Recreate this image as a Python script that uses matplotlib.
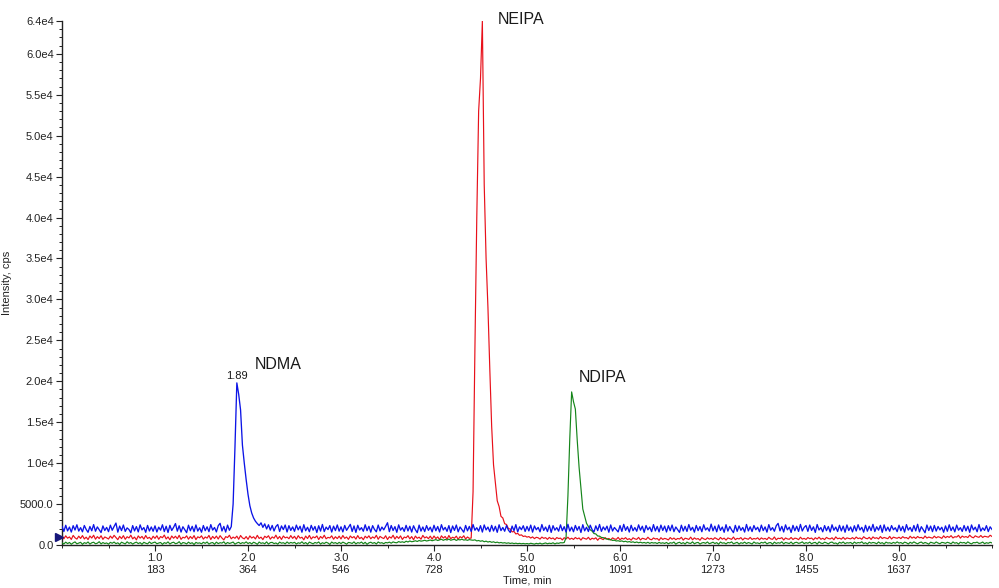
import numpy as np
import matplotlib
matplotlib.use("Agg")
import matplotlib.pyplot as plt
from matplotlib.ticker import MultipleLocator
import matplotlib.transforms as mtransforms

plt.rcParams['font.family'] = ['Liberation Sans', 'DejaVu Sans']

# ---- data (time grid: 0.00 .. 10.00 min, step 0.02; intensities in units of 10 cps) ----
time_start, time_step, n_points = 0.0, 0.02, 501
time_min = np.round(time_start + time_step * np.arange(n_points), 2)

ndma_blue = [
    228,165,241,172,219,158,236,183,247,170,212,161,238,190,155,226,174,249,168,221,186,152,233,177,215,
    163,242,180,226,268,157,231,176,244,166,209,189,150,237,172,225,160,246,184,213,155,239,171,220,168,
    234,159,218,181,247,164,229,153,240,177,216,262,169,235,158,223,186,151,242,174,228,162,245,170,211,
    156,238,175,222,163,249,182,214,160,236,265,171,227,158,243,180,224,500,1200,1980,1840,1650,1220,1000,800,
    620,480,390,330,290,262,238,271,215,258,196,247,182,239,171,226,250,165,233,188,244,159,236,178,221,
    167,243,185,229,156,248,174,217,162,240,181,226,153,235,170,251,164,219,188,237,158,230,176,245,169,
    222,160,239,179,216,252,165,233,154,241,183,212,168,247,175,228,157,236,190,161,244,172,219,185,230,
    272,163,238,177,224,155,246,181,213,166,240,172,229,158,235,186,151,243,170,220,164,237,179,218,160,
    241,174,226,159,248,183,215,167,237,152,232,178,244,161,220,188,156,239,173,227,165,250,180,211,169,
    236,158,245,184,219,163,240,171,228,155,247,176,214,168,238,182,153,231,174,249,160,222,187,235,166,
    227,172,243,157,233,186,215,161,250,178,220,164,241,154,236,181,212,169,246,175,224,158,253,170,218,
    162,239,180,226,153,248,173,217,165,242,188,159,234,176,251,167,221,183,230,156,245,171,214,187,160,
    237,166,252,179,224,158,241,174,213,168,246,181,229,155,238,185,219,163,249,172,227,160,243,178,231,
    159,236,175,244,163,220,187,154,242,171,228,166,250,180,216,157,239,176,225,162,247,183,210,169,255,
    173,230,161,245,178,219,155,248,170,226,184,151,240,167,233,179,214,158,251,172,222,164,238,186,217,
    162,243,176,221,157,249,181,212,168,235,264,173,227,159,246,185,218,153,240,174,229,166,252,171,215,
    238,167,244,178,222,154,250,183,213,161,237,175,226,158,247,180,219,165,241,172,231,156,245,177,220,
    160,235,171,248,183,216,157,241,169,229,176,252,164,223,181,240,155,246,173,218,168,237,186,211,163,
    242,175,227,158,249,182,215,165,238,172,253,160,224,187,150,244,177,231,163,239,170,226,184,217,156,
    233,168,247,176,220,161,243,181,212,166,238,173,229,155,245,184,218,162,250,170,209,178,236,164,222,
    190,
]

neipa_red = [
    104,76,112,83,99,68,117,88,72,108,80,115,74,96,66,110,85,119,71,102,79,113,69,98,87,
    73,109,82,118,91,65,106,78,114,70,101,86,120,75,97,63,111,84,105,72,116,80,94,67,107,
    81,113,70,103,89,121,74,99,64,110,83,107,77,118,69,95,86,112,71,104,78,115,66,100,88,
    112,72,98,84,117,67,105,79,109,73,114,85,62,102,91,119,76,97,82,108,70,116,87,75,103,
    69,111,85,101,74,118,80,96,66,107,90,113,71,99,83,120,75,104,68,110,87,97,77,115,81,
    106,70,114,84,95,63,109,79,117,73,100,88,111,67,104,82,119,76,93,86,112,71,101,78,108,
    74,116,81,98,69,110,87,103,72,115,78,94,65,107,85,112,76,99,83,118,70,105,89,79,113,
    67,101,84,119,73,106,80,111,68,97,88,114,75,103,64,109,82,96,71,117,86,100,77,108,72,
    110,79,99,66,112,85,104,71,116,77,95,83,108,69,102,87,113,74,98,81,85,650,2400,4000,5300,
    5700,6400,4400,3500,2900,2150,1450,980,760,540,470,350,330,260,250,200,195,160,165,135,142,118,124,104,110,
    96,103,85,99,78,94,88,72,97,81,90,69,93,76,86,65,91,79,84,62,89,74,95,70,83,
    68,92,75,86,60,89,79,71,94,64,83,73,88,58,85,77,66,91,70,80,62,87,74,69,93,
    63,84,72,90,66,78,59,88,75,69,93,61,82,76,67,95,71,64,86,73,79,57,89,68,81,
    74,62,91,70,85,65,80,73,94,60,83,77,68,96,64,87,71,79,58,90,75,66,88,72,82,
    67,89,76,63,92,71,84,60,86,78,69,97,65,81,74,90,62,85,77,70,93,68,80,73,88,
    64,87,72,81,66,94,75,69,98,63,83,78,90,61,86,74,70,92,67,84,79,65,95,72,81,
    68,91,77,85,63,89,73,96,70,82,66,93,79,74,88,64,99,76,84,71,94,69,87,80,75,
    90,72,97,78,86,70,101,83,76,94,68,99,81,89,74,103,79,92,84,77,105,73,96,88,82,
    95,78,102,86,91,75,107,84,98,80,104,88,93,79,110,85,97,90,83,108,87,101,94,81,112,
    89,105,93,114,86,101,97,118,84,109,95,103,91,120,98,88,112,100,94,116,92,107,102,96,119,
    104,
]

ndipa_green = [
    28,12,35,17,31,9,26,38,14,24,33,8,29,19,37,11,27,34,15,22,40,13,30,18,25,
    10,32,21,36,16,27,7,34,23,13,39,20,30,11,26,35,17,29,9,33,22,14,37,18,28,
    36,15,24,31,8,29,19,38,12,27,34,16,22,40,10,30,25,13,35,18,28,6,32,21,26,
    14,33,20,37,11,25,30,9,35,17,28,23,39,12,31,19,26,36,10,24,33,16,29,21,38,
    18,30,13,34,24,8,36,20,27,15,38,11,29,32,17,25,10,35,22,28,14,37,19,31,23,
    33,12,27,20,39,16,30,9,35,25,14,31,22,37,11,28,18,34,24,7,36,21,29,15,32,
    17,35,24,10,31,27,19,38,13,29,22,36,15,33,8,26,34,20,30,12,37,23,28,16,31,
    26,35,22,38,30,27,42,33,39,31,46,37,49,40,44,52,43,55,47,51,58,49,54,61,52,
    59,66,55,63,70,57,68,61,72,58,65,69,56,67,62,71,60,64,57,66,61,58,63,50,55,
    46,52,40,47,36,43,33,39,29,35,26,31,24,28,21,26,19,24,17,22,16,20,15,19,14,
    18,13,21,16,11,20,14,23,12,19,25,15,22,17,27,13,24,20,28,26,30,90,600,1300,1870,
    1750,1660,1280,950,690,440,350,265,225,185,170,140,135,110,108,92,90,77,76,65,66,56,58,49,52,
    45,50,40,46,36,42,33,39,29,37,27,34,25,31,22,33,20,30,24,28,18,32,21,27,19,
    31,14,28,22,36,10,26,33,17,29,12,35,23,19,38,15,27,32,11,25,30,20,37,16,24,
    34,18,29,9,36,22,27,13,31,25,38,15,24,33,11,28,20,35,17,30,23,12,37,21,26,
    16,32,24,37,13,27,30,10,35,19,28,22,39,14,31,25,18,36,12,29,33,20,26,38,17,
    29,21,35,15,27,32,11,38,23,18,34,26,13,30,36,19,25,10,33,22,37,16,28,24,31,
    13,36,20,30,25,39,17,28,12,34,22,31,26,15,37,19,29,11,35,24,27,18,32,21,38,
    23,30,16,35,27,12,33,20,38,25,14,29,36,18,31,22,10,34,26,19,37,24,15,32,28,
    20,33,26,14,37,22,29,11,34,25,31,17,38,23,13,30,27,35,19,24,36,16,28,21,33,
    25,
]
unit_cps = 10

xtick_minutes = [1.0, 2.0, 3.0, 4.0, 5.0, 6.0, 7.0, 8.0, 9.0]
xtick_scans = [183, 364, 546, 728, 910, 1091, 1273, 1455, 1637]
ytick_values = [0, 5000, 10000, 15000, 20000, 25000, 30000, 35000, 40000,
                45000, 50000, 55000, 60000, 64000]
ytick_labels = ['0.0', '5000.0', '1.0e4', '1.5e4', '2.0e4', '2.5e4', '3.0e4', '3.5e4',
                '4.0e4', '4.5e4', '5.0e4', '5.5e4', '6.0e4', '6.4e4']

peak_names = ['NDMA', 'NEIPA', 'NDIPA']
peak_label_pos = [(2.075, 22000), (4.69, 64200), (5.56, 20400)]
apex_time_label = '1.89'
apex_label_pos = (1.882, 20600)

# ---- figure ----
fig = plt.figure(figsize=(9.99, 5.88), dpi=100)
ax = fig.add_axes([62/999, 1 - 545/588, (992-62)/999, (545-21)/588])

blue = np.array(ndma_blue) * unit_cps
red = np.array(neipa_red) * unit_cps
green = np.array(ndipa_green) * unit_cps

ax.plot(time_min, red, color='#e8101a', lw=0.85, zorder=3)
ax.plot(time_min, green, color='#15851a', lw=0.85, zorder=4)
ax.plot(time_min, blue, color='#0c14e6', lw=0.95, zorder=5)

ax.set_xlim(0, 10.0)
ax.set_ylim(0, 64000)

for s in ['top', 'right']:
    ax.spines[s].set_visible(False)
for s in ['left', 'bottom']:
    ax.spines[s].set_linewidth(1.0)
    ax.spines[s].set_color('#222222')

ax.set_xticks(xtick_minutes)
ax.set_xticklabels([f"{m:.1f}\n{s}" for m, s in zip(xtick_minutes, xtick_scans)],
                   fontsize=8, linespacing=1.15)
ax.xaxis.set_minor_locator(MultipleLocator(0.5))
ax.set_yticks(ytick_values)
ax.set_yticklabels(ytick_labels, fontsize=8)
ax.yaxis.set_minor_locator(MultipleLocator(1000))
ax.tick_params(axis='both', which='major', length=4, width=0.8, color='#222222',
               labelcolor='#222222', pad=2)
ax.tick_params(axis='both', which='minor', length=2.2, width=0.7, color='#222222')

ax.set_xlabel('Time, min', fontsize=8, labelpad=1, color='#222222')
ax.set_ylabel('Intensity, cps', fontsize=8, color='#222222')
ax.yaxis.set_label_coords(-0.0535, 0.5)

for name, (tx, ty) in zip(peak_names, peak_label_pos):
    ax.text(tx, ty, name, fontsize=11.5, ha='left', va='center', color='#1a1a1a',
            clip_on=False)
ax.text(apex_label_pos[0], apex_label_pos[1], apex_time_label, fontsize=8,
        ha='center', va='center', color='#1a1a1a')

# baseline offset marker at left axis
trans = mtransforms.blended_transform_factory(ax.transAxes, ax.transData)
ax.plot([-0.0035], [940], marker='>', markersize=6, color='#16167a',
        transform=trans, clip_on=False, zorder=6)

fig.savefig('out.png', dpi=100)
